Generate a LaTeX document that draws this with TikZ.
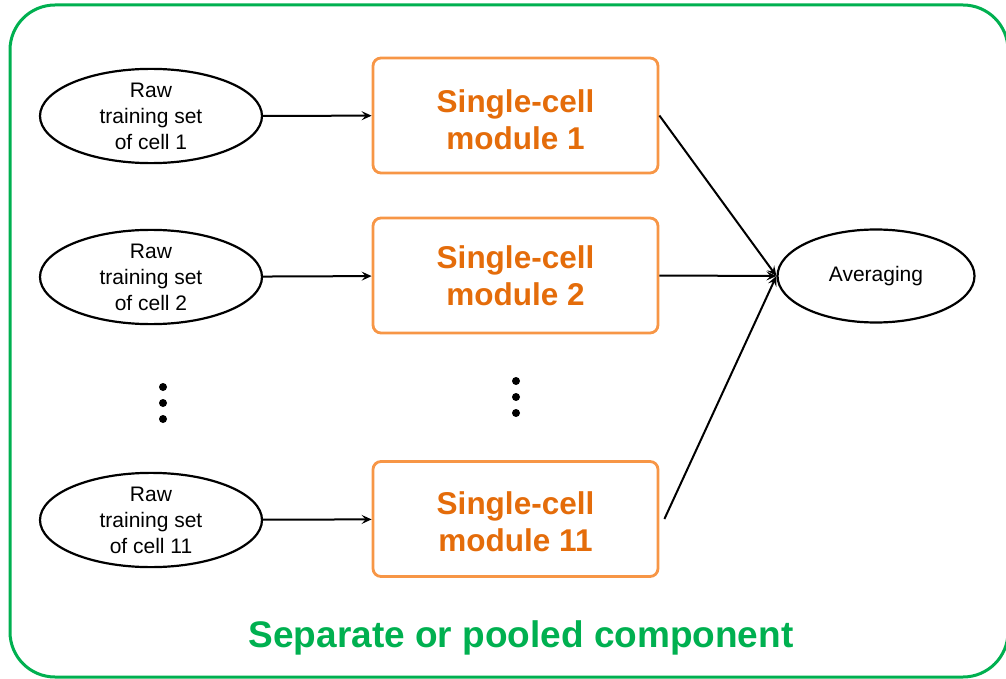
\documentclass[tikz,border=0pt]{standalone}
\usepackage{fontspec}
\setmainfont{Liberation Sans}
\usepackage{tikz}
\usetikzlibrary{positioning,calc,shapes.geometric,arrows.meta}
\definecolor{framegreen}{HTML}{00B050}
\definecolor{boxorange}{HTML}{F79646}
\definecolor{textorange}{HTML}{E46C0A}
\tikzset{
	rawset/.style={ellipse, draw, line width=2.2pt, minimum width=222pt, minimum height=93pt, inner sep=0pt, align=center, font=\fontsize{21}{26}\selectfont},
	module/.style={rectangle, rounded corners=8pt, draw=boxorange, line width=2.8pt, minimum width=285pt, minimum height=115pt, align=center, text=textorange, font=\fontsize{31.5}{37}\selectfont\bfseries},
	arrow/.style={-{Stealth[length=10pt,width=9pt,inset=4pt]}, line width=2pt},
	dot/.style={circle, fill, inner sep=0pt, minimum size=8pt}
}

\begin{document}
\begin{tikzpicture}[x=1pt, y=-1pt]
			\useasboundingbox (0,0) rectangle (1006,679);
			% outer frame
			\draw[framegreen, line width=3pt, rounded corners=45pt] (10,5) rectangle (1008,677);
			
			% plain node definitions
			\node[rawset] (raw1) at (151,116) {Raw\\training set\\of cell 1};
			\node[rawset] (raw2) at (151,277) {Raw\\training set\\of cell 2};
			\node[rawset] (raw11) at (151,520) {Raw\\training set\\of cell 11};
			\node[module] (mod1) at (515.5,115.5) {\rule{0pt}{32pt}Single-cell\\module 1};
			\node[module] (mod2) at (515.5,275.5) {Single-cell\\module 2};
			\node[module] (mod11) at (515.5,519) {\rule{0pt}{28pt}Single-cell\\module 11};
			\node[ellipse, draw, line width=2.2pt, minimum width=197pt, minimum height=93pt, inner sep=0pt, font=\fontsize{21}{26}\selectfont] (avg) at (876,276) {Averaging};
			\node[text=framegreen, font=\fontsize{37}{44}\selectfont\bfseries] (label) at (521,638) {Separate or pooled component};
			
			% dots
			\node[dot] (ldot1) at (163,387) {};
			\node[dot] (ldot2) at (163,403) {};
			\node[dot] (ldot3) at (163,419) {};
			\node[dot] (mdot1) at (516,381) {};
			\node[dot] (mdot2) at (516,397) {};
			\node[dot] (mdot3) at (516,413) {};
			
			% arrows
			\draw[arrow] (raw1) -- (mod1);
			\draw[arrow] (raw2) -- (mod2);
			\draw[arrow] (raw11) -- (mod11);
			\draw[arrow] (mod1.east) -- (avg.west);
			\draw[arrow] (mod2.east) -- (avg.west);
			\draw[arrow] ($(mod11.east)+(5,0)$) -- (avg.west);
		\end{tikzpicture}
\end{document}
